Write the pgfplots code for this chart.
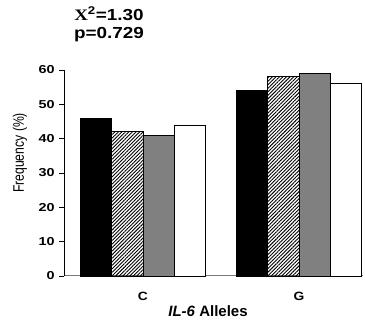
\documentclass[border=0pt]{standalone}
\usepackage{fontspec}
\setmainfont{Liberation Sans}
\newfontfamily\serifx{Liberation Serif}
\usepackage{graphicx}
\usepackage{pgfplots}
\pgfplotsset{compat=1.18}
\usetikzlibrary{patterns.meta}
\definecolor{bargray}{RGB}{128,128,128}
\definecolor{axgray}{RGB}{120,120,120}
\begin{document}
\begin{tikzpicture}
\useasboundingbox (-64pt,-52pt) rectangle (301pt,276pt);
\begin{axis}[
  at={(0pt,0pt)}, anchor=south west,
  scale only axis, width=299pt, height=206pt,
  xmin=-0.506, xmax=1.41, ymin=0, ymax=60,
  axis x line=bottom, axis y line=left,
  x axis line style={-, draw=axgray, line width=1pt},
  y axis line style={-, draw=black, line width=0.8pt},
  ytick={0,10,20,30,40,50,60},
  tick align=outside, major tick length=5pt,
  ytick style={draw=black, line width=0.8pt},
  xtick={0,1}, xticklabels={C,G}, xtick style={draw=none},
  /pgf/number format/assume math mode=true,
  yticklabel style={font=\bfseries\fontsize{11.5}{13}\selectfont, xscale=1.25},
  xticklabel style={font=\bfseries\fontsize{12}{14}\selectfont, xscale=1.15, yshift=-8pt},
  bar width=0.2,
  clip=false,
]
\addplot[ybar, bar shift=0pt, fill=black, draw=black, line width=0.8pt] coordinates {(-0.3,46) (0.7,54)};
\addplot[ybar, bar shift=0pt, pattern={Lines[angle=45, distance=2.5pt, line width=0.9pt]}, draw=black, line width=0.8pt] coordinates {(-0.1,42) (0.9,58)};
\addplot[ybar, bar shift=0pt, fill=bargray, draw=black, line width=0.8pt] coordinates {(0.1,41) (1.1,59)};
\addplot[ybar, bar shift=0pt, fill=white, draw=black, line width=0.8pt] coordinates {(0.3,44) (1.3,56)};
\end{axis}
\node[anchor=base, font=\bfseries\fontsize{16}{18}\selectfont, xscale=1.18] at (45pt,255pt) {{\serifx\bfseries X}\textsuperscript{2}=1.30};
\node[anchor=base, font=\bfseries\fontsize{16}{18}\selectfont, xscale=1.18] at (45pt,237pt) {p=0.729};
\node[anchor=base, font=\bfseries\fontsize{15}{17}\selectfont] at (144pt,-41pt) {\textit{IL-6} Alleles};
\node[rotate=90, anchor=center, font=\fontsize{12.2}{14}\selectfont] at (-44pt,123pt) {\scalebox{1}[1.25]{Frequency (\%)}};
\end{tikzpicture}
\end{document}
